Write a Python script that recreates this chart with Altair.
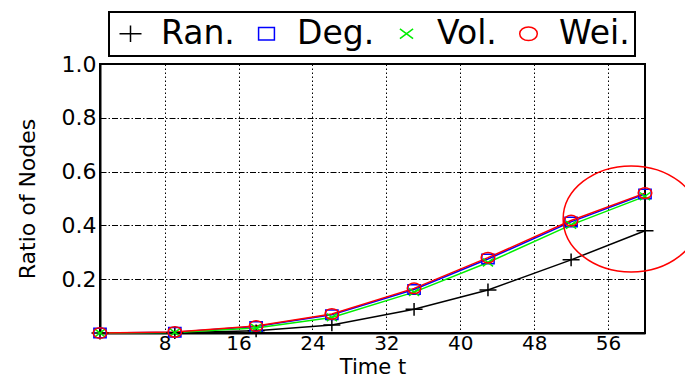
import altair as alt
import pandas as pd

# ---- data ----
time_t = [1, 9.1, 17.9, 26.1, 35.0, 43.0, 52.0, 60]
ran = [0.0, 0.001, 0.008, 0.030, 0.088, 0.160, 0.272, 0.380]
deg = [0.0, 0.003, 0.024, 0.068, 0.162, 0.275, 0.413, 0.517]
vol = [0.0, 0.002, 0.019, 0.058, 0.152, 0.262, 0.402, 0.508]
wei = [0.0, 0.004, 0.026, 0.071, 0.166, 0.280, 0.418, 0.520]
series_names = ["Ran.", "Deg.", "Vol.", "Wei."]
series_colors = ["#000000", "#0000ff", "#00ee00", "#ff0000"]
x_ticks = [8, 16, 24, 32, 40, 48, 56]
y_ticks = [0.2, 0.4, 0.6, 0.8, 1.0]
# red annotation ellipse (centre in data units)
ellipse_t = [58.5]
ellipse_y = [0.424]

FONT = "DejaVu Sans"

rows = []
for name, vals in zip(series_names, [ran, deg, vol, wei]):
    for t, v in zip(time_t, vals):
        rows.append({"t": t, "ratio": v, "series": name})
df = pd.DataFrame(rows)
ell = pd.DataFrame({"t": ellipse_t, "ratio": ellipse_y})

shapes = [
    "M-1,0L1,0M0,-0.75L0,0.75",                                   # +
    "M-0.72,-0.56L0.72,-0.56L0.72,0.56L-0.72,0.56Z",               # square
    "M-0.6,-0.45L0.6,0.45M0.6,-0.45L-0.6,0.45",                    # x
    "M0.8,0A0.8,0.62 0 1,1 -0.8,0A0.8,0.62 0 1,1 0.8,0Z",          # circle
]

xs = alt.Scale(domain=[1, 60], nice=False, zero=False)
ys = alt.Scale(domain=[0, 1], nice=False)

x_enc = alt.X("t:Q", scale=xs, axis=alt.Axis(
    values=x_ticks, title="Time t", grid=True, gridDash=[1.5, 2.5],
    gridColor="#000000", gridOpacity=1, gridWidth=1, ticks=False,
    labelPadding=0, titlePadding=3, domainColor="#000000", domainWidth=2))
y_enc = alt.Y("ratio:Q", scale=ys, axis=alt.Axis(
    values=y_ticks, format=".1f", title="Ratio of Nodes", grid=True,
    gridDash=[6, 2, 1.5, 2], gridColor="#000000", gridOpacity=1, gridWidth=1,
    ticks=False, labelPadding=4, titlePadding=22,
    domainColor="#000000", domainWidth=2))

color_scale = alt.Scale(domain=series_names, range=series_colors)
shape_scale = alt.Scale(domain=series_names, range=shapes)
leg = alt.Legend(title=None)

lines = alt.Chart(df).mark_line(strokeWidth=1.5).encode(
    x=x_enc, y=y_enc,
    color=alt.Color("series:N", scale=color_scale, sort=series_names, legend=leg),
    order=alt.Order("t:Q"),
)

points = alt.Chart(df).mark_point(filled=False, strokeWidth=1.5, size=289, opacity=1).encode(
    x=alt.X("t:Q", scale=xs),
    y=alt.Y("ratio:Q", scale=ys),
    color=alt.Color("series:N", scale=color_scale, sort=series_names, legend=leg),
    shape=alt.Shape("series:N", scale=shape_scale, sort=series_names, legend=leg),
)

ellipse = alt.Chart(ell).mark_point(filled=False, strokeWidth=1.5, opacity=1).encode(
    x=alt.X("t:Q", scale=xs),
    y=alt.Y("ratio:Q", scale=ys),
    shape=alt.value("M-1,0A1,0.78 0 1,1 1,0A1,0.78 0 1,1 -1,0Z"),
    size=alt.value(18496),
    color=alt.value("#ff0000"),
)

chart = (
    alt.layer(lines, points, ellipse)
    .properties(
        width=545, height=269,
        autosize=alt.AutoSizeParams(type="none"),
        padding={"left": 100, "top": 64, "right": 40, "bottom": 46},
        background="#ffffff",
    )
    .configure_view(stroke="#000000", strokeWidth=2)
    .configure_axis(
        labelFont=FONT, labelFontSize=20, labelColor="#000000",
        titleFont=FONT, titleFontSize=22, titleFontWeight="normal",
        titleColor="#000000",
    )
    .configure_axisY(labelFontSize=22)
    .configure_axisX(titleFontSize=21)
    .configure_legend(
        orient="none", legendX=9, legendY=-52, direction="horizontal",
        labelFont=FONT, labelFontSize=33, labelColor="#000000",
        symbolSize=484, symbolStrokeWidth=1.5, labelOffset=14,
        columnPadding=15, padding=5, strokeColor="#000000", strokeWidth=2,
        fillColor="#ffffff",
    )
)

chart.save("out.html", embed_options={"renderer": "svg", "actions": False})
